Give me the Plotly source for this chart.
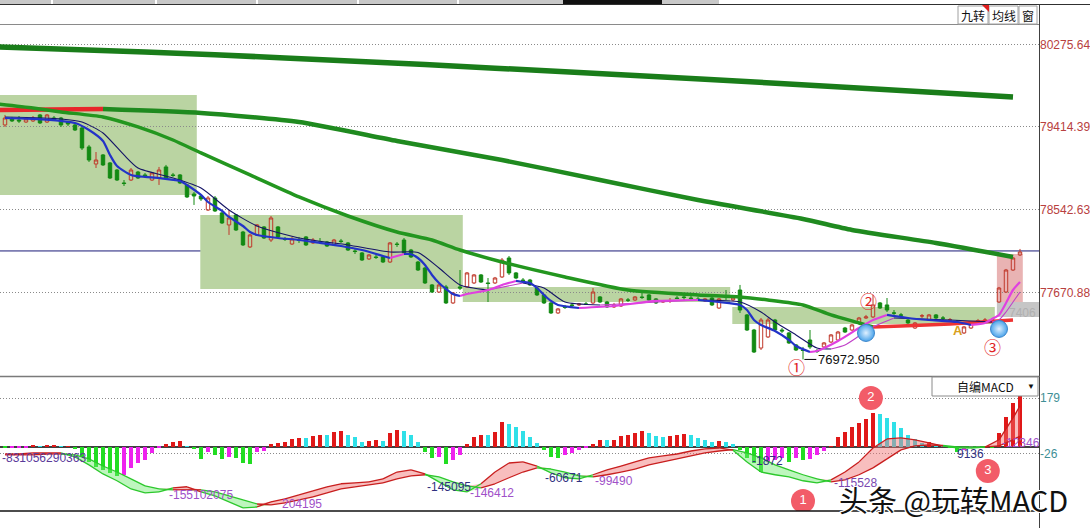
import plotly.graph_objects as go

W, H = 1090, 528

# ---------------- DATA ----------------
price_ticks = [80275.64, 79414.39, 78542.63, 77670.88]
macd_ticks = [179, -26]
ref_line_price = 78112
low_price = 76972.95
low_index = 114

opens = [79435, 79498, 79487, 79466, 79477, 79540, 79466, 79508, 79508, 79466,
         79435, 79403, 79204, 79025, 79120, 79036, 78962, 78826, 78857, 78941,
         78910, 78857, 78878, 78994, 78910, 78910, 78805, 78710, 78689, 78542,
         78668, 78511, 78385, 78490, 78311, 78154, 78280, 78364, 78227, 78364,
         78238, 78185, 78227, 78259, 78196, 78206, 78206, 78175, 78217, 78196,
         78112, 78091, 78028, 78049, 78049, 77996, 78185, 78227, 78122, 77996,
         77933, 77755, 77681, 77734, 77566, 77734, 77734, 77776, 77860, 77776,
         77776, 77839, 78038, 77881, 77807, 77807, 77723, 77650, 77566, 77461,
         77524, 77545, 77545, 77555, 77566, 77629, 77576, 77524, 77534, 77597,
         77597, 77629, 77650, 77608, 77576, 77587, 77618, 77629, 77618, 77608,
         77587, 77618, 77513, 77629, 77597, 77702, 77440, 77282, 77093, 77209,
         77387, 77282, 77251, 77125, 77072, 77177, 77062, 77104, 77156, 77177,
         77303, 77282, 77356, 77408, 77419, 77566, 77545, 77461, 77440, 77387,
         77303, 77429, 77387, 77440, 77408, 77387, 77366, 77251, 77303, 77377,
         77377, 77387, 77576, 77681, 77912, 78070]
closes = [79508, 79477, 79477, 79498, 79508, 79456, 79540, 79487, 79435, 79445,
          79382, 79193, 79067, 79067, 79015, 78878, 78857, 78820, 78962, 78878,
          78899, 78931, 78962, 78878, 78905, 78826, 78679, 78689, 78658, 78668,
          78532, 78406, 78458, 78332, 78175, 78280, 78385, 78248, 78458, 78259,
          78232, 78238, 78222, 78175, 78227, 78204, 78164, 78227, 78211, 78122,
          78106, 78017, 78070, 78043, 77996, 78196, 78180, 78091, 78049, 77912,
          77776, 77681, 77755, 77566, 77671, 77723, 77881, 77860, 77786, 77770,
          77828, 78017, 77881, 77828, 77802, 77755, 77650, 77566, 77461, 77503,
          77518, 77540, 77555, 77553, 77681, 77576, 77524, 77545, 77608, 77595,
          77629, 77623, 77597, 77566, 77587, 77592, 77613, 77623, 77613, 77602,
          77608, 77545, 77608, 77623, 77618, 77492, 77282, 77051, 77387, 77387,
          77282, 77272, 77146, 77072, 77067, 77104, 77056, 77146, 77230, 77261,
          77261, 77335, 77408, 77419, 77545, 77513, 77492, 77459, 77438, 77356,
          77356, 77431, 77440, 77408, 77406, 77389, 77364, 77314, 77356, 77379,
          77387, 77385, 77723, 77912, 78038, 78101]
highs = [79540, 79519, 79529, 79519, 79529, 79550, 79550, 79529, 79519, 79477,
         79445, 79424, 79225, 79151, 79130, 79046, 78973, 78857, 78983, 78952,
         78931, 78941, 78994, 79015, 78931, 78920, 78815, 78731, 78700, 78689,
         78689, 78521, 78542, 78500, 78322, 78290, 78395, 78374, 78479, 78374,
         78259, 78259, 78259, 78269, 78248, 78248, 78217, 78238, 78238, 78206,
         78133, 78101, 78080, 78070, 78059, 78206, 78206, 78248, 78133, 78007,
         77944, 77765, 77765, 77755, 77681, 77912, 77891, 77870, 77870, 77828,
         77839, 78038, 78059, 77891, 77828, 77818, 77734, 77660, 77576, 77513,
         77545, 77566, 77566, 77576, 77723, 77639, 77587, 77566, 77618, 77618,
         77639, 77671, 77660, 77618, 77597, 77618, 77639, 77650, 77639, 77629,
         77618, 77629, 77618, 77702, 77629, 77755, 77450, 77293, 77408, 77408,
         77398, 77303, 77261, 77135, 77104, 77282, 77083, 77156, 77240, 77272,
         77314, 77345, 77419, 77440, 77650, 77576, 77618, 77492, 77461, 77398,
         77366, 77450, 77450, 77450, 77429, 77408, 77387, 77324, 77366, 77398,
         77408, 77408, 77734, 77923, 78049, 78133]
lows = [79414, 79466, 79456, 79456, 79466, 79445, 79456, 79477, 79414, 79424,
        79372, 79172, 79046, 78983, 79004, 78868, 78847, 78794, 78847, 78868,
        78889, 78847, 78805, 78868, 78889, 78815, 78668, 78595, 78637, 78532,
        78521, 78395, 78280, 78322, 78164, 78143, 78269, 78238, 78206, 78248,
        78217, 78175, 78196, 78164, 78185, 78185, 78154, 78164, 78196, 78112,
        78080, 78007, 78017, 78028, 77986, 77986, 78154, 78080, 78038, 77902,
        77765, 77671, 77671, 77555, 77555, 77702, 77723, 77765, 77776, 77576,
        77765, 77828, 77860, 77818, 77786, 77744, 77639, 77555, 77450, 77450,
        77503, 77524, 77534, 77545, 77555, 77566, 77513, 77513, 77524, 77576,
        77587, 77608, 77587, 77555, 77566, 77566, 77608, 77597, 77597, 77587,
        77576, 77534, 77503, 77597, 77587, 77461, 77272, 77041, 77072, 77198,
        77272, 77251, 77135, 77062, 76972.95, 77083, 77041, 77093, 77146, 77167,
        77251, 77272, 77345, 77398, 77408, 77503, 77471, 77440, 77429, 77345,
        77293, 77408, 77377, 77398, 77387, 77377, 77345, 77240, 77293, 77366,
        77366, 77366, 77566, 77671, 77902, 78059]
candle_idx = list(range(len(opens)))

# moving averages
ma250_idx = [-1, 20, 40, 60, 80, 100, 120, 144]
ma250 = [80253, 80202, 80139, 80069, 79993, 79914, 79832, 79728]

ma120_idx = [-1, 14, 28, 42, 56, 71, 85, 99, 114, 121, 133, 144]
ma120 = [79592, 79602, 79561, 79466, 79267, 79067, 78857, 78647, 78448, 78332, 78196, 78049]

ma60_idx = [-1, 4, 8, 14, 19, 24, 28, 35, 42, 49, 56, 61, 65, 71, 80, 89, 99, 105,
            109, 114, 118, 122, 124, 128, 135, 144]
ma60 = [79655, 79613, 79571, 79519, 79414, 79277, 79141, 78910, 78679, 78479, 78311,
        78227, 78122, 77996, 77839, 77702, 77650, 77629, 77597, 77545, 77440, 77356,
        77314, 77324, 77345, 77387]

ma_fast_idx = [0, 4, 8, 10, 12, 14, 15, 16, 18, 20, 22, 25, 26, 28, 29, 31, 32, 34, 35,
               36, 39, 42, 45, 48, 51, 54, 55, 56, 57, 58, 59, 60, 61, 62, 64, 65, 66,
               69, 71, 73, 74, 75, 76, 77, 78, 79, 82, 87, 93, 99, 102, 105, 106, 107,
               108, 110, 112, 113, 115, 116, 119, 122, 124, 126, 129, 132, 136, 138,
               140, 141, 142, 143, 144, 145]
ma_fast = [79508, 79498, 79477, 79456, 79382, 79267, 79120, 79004, 78910, 78889, 78878,
           78847, 78805, 78700, 78626, 78532, 78469, 78374, 78311, 78280, 78248, 78227,
           78196, 78164, 78122, 78059, 78038, 78059, 78080, 78078, 78038, 77965, 77860,
           77776, 77660, 77639, 77660, 77702, 77755, 77797, 77786, 77776, 77723, 77650,
           77587, 77545, 77513, 77534, 77587, 77597, 77576, 77545, 77492, 77387, 77335,
           77272, 77177, 77114, 77051, 77062, 77167, 77303, 77387, 77440, 77408, 77387,
           77366, 77335, 77356, 77398, 77440, 77566, 77702, 77786]

ma_slow_idx = [0, 8, 11, 14, 17, 19, 24, 28, 32, 36, 42, 49, 55, 59, 62, 65, 69, 74, 77,
               80, 85, 99, 105, 108, 110, 113, 116, 118, 120, 122, 124, 127, 135, 141,
               142, 143, 144, 145]
ma_slow = [79519, 79498, 79466, 79351, 79120, 78983, 78878, 78773, 78542, 78374, 78248,
           78175, 78101, 78096, 77933, 77755, 77702, 77776, 77723, 77576, 77545, 77597,
           77576, 77471, 77366, 77230, 77093, 77083, 77125, 77219, 77314, 77408, 77387,
           77366, 77387, 77471, 77576, 77681]

# MACD panel
hist = [-5, -5, -4, -3, 5, 2, 4, 4, 1, 2,
        -8, -37, -55, -73, -84, -95, -108, -104, -77, -59,
        -48, -22, -1, 11, 18, 22, 3, -8, -44, -18,
        -29, -44, -37, -40, -59, -62, -18, -15, 11, 15,
        18, 29, 33, 31, 40, 44, 43, 55, 59, 44,
        37, 18, 22, 26, 22, 51, 62, 59, 44, 18,
        -18, -40, -37, -62, -48, -29, 11, 37, 44, 42,
        55, 92, 84, 73, 59, 37, 15, -11, -37, -40,
        -29, -22, -11, -4, 11, 26, 25, 26, 40, 44,
        51, 59, 51, 40, 37, 40, 44, 46, 44, 33,
        26, 18, 22, 18, 11, -11, -40, -59, -92, -55,
        -48, -40, -55, -40, -48, -44, -29, -15, 2, 37,
        55, 73, 88, 102, 124, 120, 106, 92, 70, 44,
        29, 15, 18, 11, 7, -4, -18, -11, -4, -3,
        2, -4, 51, 110, 161, 190]
dd_idx = list(range(0, 145, 2)) + [145]
dif = [-26, -26, -22, -22, -22, -37, -66, -99, -124, -154,
       -168, -165, -150, -146, -165, -179, -201, -223, -220, -201,
       -190, -176, -161, -146, -135, -132, -128, -117, -92, -84,
       -99, -128, -157, -165, -135, -92, -59, -55, -70, -95,
       -113, -117, -102, -84, -70, -55, -40, -33, -26, -15,
       -7, -4, -12, -55, -92, -102, -110, -124, -132, -121,
       -92, -55, -4, 29, 33, 26, 15, 3, -4, -4,
       -1, 26, 106, 150]
dea = [-29, -29, -29, -26, -26, -29, -44, -70, -92, -117,
       -143, -154, -157, -157, -157, -165, -179, -194, -209, -212,
       -205, -194, -183, -168, -154, -146, -139, -132, -117, -106,
       -102, -110, -128, -143, -150, -135, -113, -92, -77, -81,
       -92, -106, -110, -102, -92, -81, -66, -55, -44, -33,
       -22, -15, -10, -22, -40, -66, -84, -102, -117, -128,
       -121, -102, -77, -44, -11, 4, 7, 5, 0, 0,
       0, 4, 26, 40]

# consolidation zones: (index from, index to, price low, price high)
green_zones = [(-1, 27.4, 78700, 79750), (27.9, 65.4, 77713, 78490),
               (65.4, 103.6, 77576, 77734), (103.9, 141.4, 77345, 77524)]
pink_zone = (141.7, 145.4, 77576, 78080)
gray_zone = (141.7, 147.8, 77419, 77576)

cross_idx = [123, 142]
cross_price = [77251, 77293]
circled_text = ['①', '②', '③']
circled_idx = [113.1, 123.3, 141.1]
circled_price = [76904, 77597, 77114]

macd_callout_text = ['1', '2', '3']
macd_callout_idx = [114, 123.7, 140.4]
macd_callout_val = [-198, 179, -88]

macd_labels = [("-831056290363", -0.7, -40, '#5a3a9a'),
               ("-155102075", 23.1, -176, '#a050c8'),
               ("204195", 39.3, -209, '#a050c8'),
               ("-145095", 60.0, -146, '#303080'),
               ("-146412", 66.1, -168, '#a050c8'),
               ("-60671", 76.9, -113, '#303080'),
               ("-99490", 84.0, -124, '#a050c8'),
               ("-1872", 106.4, -51, '#303080'),
               ("-115528", 118.1, -132, '#7a48b0'),
               ("9136", 135.7, -26, '#303080'),
               ("-12346", 142.1, 15, '#a050c8')]

# ---------------- FIGURE ----------------
def PX(x):
    return x / W


def PY(y):
    return 1 - y / H


X_RANGE = [-5 / 7, 1034 / 7]
fig = go.Figure()


def colored_runs(xs, ys, up_col, dn_col):
    runs = []
    cur = None
    for k in range(len(xs) - 1):
        c = up_col if ys[k + 1] > ys[k] else dn_col
        if c != cur:
            runs.append([c, [xs[k]], [ys[k]]])
            cur = c
        runs[-1][1].append(xs[k + 1])
        runs[-1][2].append(ys[k + 1])
    return runs


def add_ma(xs, ys, up_col, dn_col, width):
    for c, rx, ry in colored_runs(xs, ys, up_col, dn_col):
        fig.add_trace(go.Scatter(x=rx, y=ry, mode='lines',
                                 line=dict(color=c, width=width, shape='spline', smoothing=0.6),
                                 hoverinfo='skip', showlegend=False,
                                 xaxis='x', yaxis='y'))


add_ma(ma250_idx, ma250, '#e8262a', '#1a7d1a', 5.5)
add_ma(ma120_idx, ma120, '#e8262a', '#1f8a1f', 4.5)
add_ma(ma60_idx, ma60, '#ee3333', '#23961f', 3.5)

fig.add_trace(go.Candlestick(
    x=candle_idx, open=opens, high=highs, low=lows, close=closes,
    increasing=dict(line=dict(color='#c0392b', width=1), fillcolor='rgba(255,255,255,0)'),
    decreasing=dict(line=dict(color='#138a13', width=1), fillcolor='#138a13'),
    whiskerwidth=0, showlegend=False, hoverinfo='skip', xaxis='x', yaxis='y'))

add_ma(ma_slow_idx, ma_slow, '#c040c8', '#141466', 1.1)
add_ma(ma_fast_idx, ma_fast, '#e040e0', '#2333c8', 2.2)

fig.add_trace(go.Scatter(
    x=cross_idx, y=cross_price, mode='markers',
    marker=dict(size=17, color='#4aa3ea', line=dict(color='#3b86cc', width=1),
                gradient=dict(type='radial', color='#dff0ff')),
    hoverinfo='skip', showlegend=False, xaxis='x', yaxis='y'))

# ---- MACD ----
hist_colors = []
for k, v in enumerate(hist):
    prev = hist[k - 1] if k > 0 else 0
    if v >= 0:
        hist_colors.append('#e01818' if v >= prev else '#2fe0e8')
    else:
        hist_colors.append('#22dd22' if v < prev else '#ee22ee')
fig.add_trace(go.Bar(x=candle_idx, y=hist, marker=dict(color=hist_colors, line=dict(width=0)),
                     width=0.58, hoverinfo='skip', showlegend=False, xaxis='x2', yaxis='y2'))

upper = [max(a, b) for a, b in zip(dif, dea)]
lower = [min(a, b) for a, b in zip(dif, dea)]
fig.add_trace(go.Scatter(x=dd_idx, y=dea, mode='lines', line=dict(width=0),
                         hoverinfo='skip', showlegend=False, xaxis='x2', yaxis='y2'))
fig.add_trace(go.Scatter(x=dd_idx, y=upper, mode='lines', line=dict(width=0), fill='tonexty',
                         fillcolor='rgba(240,110,110,0.45)',
                         hoverinfo='skip', showlegend=False, xaxis='x2', yaxis='y2'))
fig.add_trace(go.Scatter(x=dd_idx, y=dea, mode='lines', line=dict(width=0),
                         hoverinfo='skip', showlegend=False, xaxis='x2', yaxis='y2'))
fig.add_trace(go.Scatter(x=dd_idx, y=lower, mode='lines', line=dict(width=0), fill='tonexty',
                         fillcolor='rgba(110,235,110,0.45)',
                         hoverinfo='skip', showlegend=False, xaxis='x2', yaxis='y2'))

for series in (dea, dif):
    segs = {'#c81e1e': ([], []), '#2cc82c': ([], [])}
    for k in range(len(dd_idx) - 1):
        c = '#c81e1e' if (dif[k] + dif[k + 1]) >= (dea[k] + dea[k + 1]) else '#2cc82c'
        sx, sy = segs[c]
        sx += [dd_idx[k], dd_idx[k + 1], None]
        sy += [series[k], series[k + 1], None]
    for c, (sx, sy) in segs.items():
        fig.add_trace(go.Scatter(x=sx, y=sy, mode='lines', line=dict(color=c, width=1.3),
                                 connectgaps=False, hoverinfo='skip', showlegend=False,
                                 xaxis='x2', yaxis='y2'))

fig.add_trace(go.Scatter(
    x=macd_callout_idx, y=macd_callout_val, mode='markers+text', text=macd_callout_text,
    textposition='middle center',
    textfont=dict(color='white', size=13, family='Liberation Sans, Arial'),
    marker=dict(size=24, color='#f25c68'),
    hoverinfo='skip', showlegend=False, xaxis='x2', yaxis='y2'))

# ---------------- SHAPES ----------------
shapes = []
for (a, b, lo, hi) in green_zones:
    shapes.append(dict(type='rect', xref='x', yref='y', x0=a, x1=b, y0=lo, y1=hi,
                       fillcolor='#bad4a2', line=dict(width=0), layer='below'))
for (a, b, lo, hi), col in ((pink_zone, '#e9b3b3'), (gray_zone, '#c6c6c6')):
    shapes.append(dict(type='rect', xref='x', yref='y', x0=a, x1=b, y0=lo, y1=hi,
                       fillcolor=col, line=dict(width=0), layer='below'))
shapes.append(dict(type='line', xref='paper', yref='y', x0=0, x1=PX(1039),
                   y0=ref_line_price, y1=ref_line_price,
                   line=dict(color='#1a1a78', width=1), layer='below'))
shapes.append(dict(type='line', xref='paper', yref='y2', x0=0, x1=PX(1039), y0=0, y1=0,
                   line=dict(color='#000000', width=1.5), layer='below'))
shapes.append(dict(type='line', xref='x', yref='y', x0=low_index + 0.2, x1=low_index + 1.9,
                   y0=low_price, y1=low_price, line=dict(color='#000000', width=1)))

# frame / chrome
shapes.append(dict(type='rect', xref='paper', yref='paper', x0=0, x1=PX(719), y0=PY(4), y1=1,
                   fillcolor='#c8c8c8', line=dict(width=0)))
for s in (52, 156, 257, 358, 458):
    shapes.append(dict(type='line', xref='paper', yref='paper', x0=PX(s), x1=PX(s),
                       y0=PY(4), y1=1, line=dict(color='#ffffff', width=2)))
shapes.append(dict(type='rect', xref='paper', yref='paper', x0=PX(563), x1=PX(662),
                   y0=PY(4), y1=1, fillcolor='#101010', line=dict(width=0)))
shapes.append(dict(type='line', xref='paper', yref='paper', x0=0, x1=1, y0=PY(4.5), y1=PY(4.5),
                   line=dict(color='#303030', width=1)))
shapes.append(dict(type='line', xref='paper', yref='paper', x0=0, x1=PX(1039),
                   y0=PY(24.5), y1=PY(24.5), line=dict(color='#8a8a8a', width=1)))
for (a, b) in ((958, 988), (989, 1018), (1019, 1037)):
    shapes.append(dict(type='rect', xref='paper', yref='paper', x0=PX(a), x1=PX(b),
                       y0=PY(24), y1=PY(6), fillcolor='#ffffff',
                       line=dict(color='#a0a0a0', width=1)))
shapes.append(dict(type='path', xref='paper', yref='paper',
                   path=f"M {PX(982)} {PY(5)} L {PX(989)} {PY(5)} L {PX(989)} {PY(12)} Z",
                   fillcolor='#e02020', line=dict(width=0)))
shapes.append(dict(type='line', xref='paper', yref='paper', x0=PX(1039.5), x1=PX(1039.5),
                   y0=0, y1=PY(4.5), line=dict(color='#404040', width=1)))
shapes.append(dict(type='line', xref='paper', yref='paper', x0=0, x1=PX(1039.5),
                   y0=PY(376.5), y1=PY(376.5), line=dict(color='#7a7a7a', width=1.5)))
shapes.append(dict(type='line', xref='paper', yref='paper', x0=0, x1=PX(1039.5),
                   y0=PY(511), y1=PY(511), line=dict(color='#101010', width=1.5)))
shapes.append(dict(type='rect', xref='paper', yref='paper', x0=PX(932), x1=PX(1038),
                   y0=PY(396), y1=PY(377), fillcolor='#ffffff',
                   line=dict(color='#8a8a8a', width=1)))

# ---------------- ANNOTATIONS ----------------
ann = []
CJK = 'Noto Sans CJK SC'
SANS = 'Liberation Sans, Arial, sans-serif'


def paper_text(t, x, y, size, color='#111111', family=CJK, **kw):
    ann.append(dict(text=t, x=PX(x), y=PY(y), xref='paper', yref='paper', showarrow=False,
                    xanchor='center', yanchor='middle',
                    font=dict(family=family, size=size, color=color, **kw)))


for t, cx in (('九转', 973), ('均线', 1003.5), ('窗', 1028)):
    paper_text(t, cx, 15, 12)
paper_text('自编MACD', 985, 386.5, 12)
paper_text('▼', 1031, 386, 8, family=SANS)

ann.append(dict(text='76972.950', x=low_index + 1.9, y=low_price, xref='x', yref='y',
                xanchor='left', yanchor='middle', showarrow=False,
                font=dict(family=SANS, size=13, color='#111111')))
for t, xi, yp in zip(circled_text, circled_idx, circled_price):
    ann.append(dict(text=t, x=xi, y=yp, xref='x', yref='y', showarrow=False,
                    xanchor='center', yanchor='middle',
                    font=dict(family=CJK, size=17, color='#e02424')))
ann.append(dict(text='<b>A</b>', x=136.1, y=77282, xref='x', yref='y', showarrow=False,
                xanchor='center', yanchor='middle',
                font=dict(family=SANS, size=13, color='#d9a020')))
ann.append(dict(text='7406', x=145.4, y=77461, xref='x', yref='y', showarrow=False,
                xanchor='center', yanchor='middle',
                font=dict(family=SANS, size=12, color='#b0b0b0')))
for t, xi, v, col in macd_labels:
    ann.append(dict(text=t, x=xi, y=v, xref='x2', yref='y2', xanchor='left',
                    yanchor='middle', showarrow=False,
                    font=dict(family=SANS, size=12, color=col)))
paper_text('头条 @玩转MACD', 953, 499, 29, color='#111111',
           shadow='1px 1px 0 #fff, -1px -1px 0 #fff, 1px -1px 0 #fff, -1px 1px 0 #fff')

fig.update_layout(
    width=W, height=H, autosize=False,
    margin=dict(l=0, r=0, t=0, b=0, pad=0),
    paper_bgcolor='white', plot_bgcolor='white',
    showlegend=False, bargap=0,
    xaxis=dict(domain=[0, PX(1039)], range=X_RANGE, visible=False, anchor='y',
               rangeslider=dict(visible=False), fixedrange=True),
    xaxis2=dict(domain=[0, PX(1039)], range=X_RANGE, visible=False, anchor='y2',
                fixedrange=True),
    yaxis=dict(domain=[PY(375), PY(25)], range=[80747 - 10.5 * 375, 80747 - 10.5 * 25],
               side='right', anchor='x', tickvals=price_ticks,
               ticktext=[f"{v:.2f}" for v in price_ticks], ticks='', showline=False,
               showgrid=True, gridcolor='#8a8a8a', griddash='1px,2px', gridwidth=1,
               zeroline=False, tickfont=dict(family=SANS, size=12, color='#b84040'),
               fixedrange=True),
    yaxis2=dict(domain=[PY(511), PY(378)], range=[-234.7, 252.2], side='right', anchor='x2',
                tickvals=macd_ticks, ticktext=[str(v) for v in macd_ticks], ticks='',
                showline=False, showgrid=True, gridcolor='#8a8a8a', griddash='1px,2px',
                gridwidth=1, zeroline=False,
                tickfont=dict(family=SANS, size=12, color='#3f8f96'), fixedrange=True),
    shapes=shapes, annotations=ann,
)

fig.write_html("out.html", config={'displayModeBar': False, 'responsive': False},
               post_script="document.body.style.margin='0';document.body.style.padding='0';")
